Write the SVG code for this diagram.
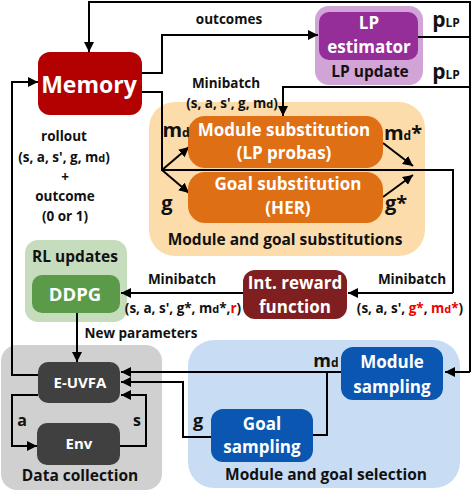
<svg xmlns="http://www.w3.org/2000/svg" width="472" height="492" viewBox="0 0 472 492">
<defs>
<marker id="ah" viewBox="0 0 10 10" refX="10" refY="5" markerWidth="10" markerHeight="10" markerUnits="userSpaceOnUse" orient="auto">
<path d="M0,0 L10,5 L0,10 z" fill="#000"/>
</marker>
<style>
text{font-family:"Open Sans","Liberation Sans",sans-serif;font-weight:bold;text-anchor:middle}
.w{fill:#fff}
.k{fill:#111}
.lbl{font-size:13.5px}
.grp{font-size:15.5px}
.node{font-size:17px}
.red{fill:#ee0000}
.c{fill:none;stroke:#000;stroke-width:2}
.a{marker-end:url(#ah)}
.big{font-size:21px}
.sub{font-size:12px}
.ssub{font-size:11px}
</style>
</defs>
<rect width="472" height="492" fill="#fff"/>

<!-- group backgrounds -->
<g id="lp-update">
<rect x="315" y="6" width="108" height="79" rx="14" fill="#d2a3d6"/>
<text class="k grp" x="370" y="77">LP update</text>
</g>
<g id="substitutions">
<rect x="149" y="102" width="276" height="154" rx="26" fill="#fddcab"/>
<text class="k grp" x="285" y="245">Module and goal substitutions</text>
</g>
<g id="rl-updates">
<rect x="25" y="240" width="102" height="82" rx="13" fill="#c5dcbd"/>
<text class="k grp" x="75" y="262">RL updates</text>
</g>
<g id="data-collection">
<rect x="1" y="345" width="161" height="145" rx="16" fill="#d0d0d0"/>
<text class="k grp" x="80" y="481">Data collection</text>
</g>
<g id="selection">
<rect x="188" y="340" width="272" height="148" rx="26" fill="#c8ddf3"/>
<text class="k grp" x="326" y="480">Module and goal selection</text>
</g>

<!-- connectors -->
<g id="connectors">
<path class="c" d="M418,37 H470"/>
<path class="c a" d="M470,372 V2 H89 V52"/>
<path class="c a" d="M470,87 H283 V116"/>
<path class="c a" d="M470,372 H445"/>
<path class="c a" d="M142,73 H162 V35 H318"/>
<path class="c" d="M142,92 H162 V170 H453 V293"/>
<path class="c a" d="M453,293 H348"/>
<path class="c a" d="M162,170 L189,147"/>
<path class="c a" d="M162,170 L189,193"/>
<path class="c a" d="M383,143 L413,166"/>
<path class="c a" d="M383,197 L413,175"/>
<path class="c a" d="M243,293 H121"/>
<path class="c a" d="M77,313 V362"/>
<path class="c a" d="M38,375 H12 V82 H38"/>
<path class="c a" d="M38,395 H12 V446 H37"/>
<path class="c a" d="M120,446 H146 V395 H121"/>
<path class="c a" d="M341,372 H121"/>
<path class="c" d="M327,372 V435 H313"/>
<path class="c a" d="M211,437 H183 V382 H121"/>
</g>

<!-- nodes -->
<g id="memory">
<rect x="38" y="52" width="104" height="63" rx="12" fill="#b30000"/>
<text class="w" x="89" y="93" font-size="23">Memory</text>
</g>
<g id="lp-estimator">
<rect x="319" y="12" width="99" height="48" rx="10" fill="#952e99"/>
<text class="w node" x="369" y="29">LP</text>
<text class="w node" x="369" y="53">estimator</text>
</g>
<g id="module-substitution">
<rect x="188" y="116" width="195" height="52" rx="17" fill="#df6f15"/>
<text class="w node" x="284" y="136">Module substitution</text>
<text class="w node" x="284" y="159">(LP probas)</text>
</g>
<g id="goal-substitution">
<rect x="188" y="172" width="195" height="51" rx="17" fill="#df6f15"/>
<text class="w node" x="288" y="190">Goal substitution</text>
<text class="w node" x="288" y="214">(HER)</text>
</g>
<g id="int-reward">
<rect x="243" y="270" width="104" height="49" rx="12" fill="#7f1f1f"/>
<text class="w node" x="295" y="289">Int. reward</text>
<text class="w node" x="295" y="313">function</text>
</g>
<g id="ddpg">
<rect x="32" y="275" width="88" height="38" rx="10" fill="#5b9a48"/>
<text class="w" x="75" y="301" font-size="18.5">DDPG</text>
</g>
<g id="e-uvfa">
<rect x="38" y="362" width="82" height="41" rx="10" fill="#404040"/>
<text class="w" x="80" y="388" font-size="15">E-UVFA</text>
</g>
<g id="env">
<rect x="37" y="423" width="83" height="42" rx="10" fill="#404040"/>
<text class="w" x="79" y="449" font-size="15">Env</text>
</g>
<g id="module-sampling">
<rect x="341" y="347" width="102" height="53" rx="12" fill="#0a56b0"/>
<text class="w node" x="392" y="368">Module</text>
<text class="w node" x="392" y="393">sampling</text>
</g>
<g id="goal-sampling">
<rect x="211" y="409" width="102" height="53" rx="12" fill="#0a56b0"/>
<text class="w node" x="262" y="430">Goal</text>
<text class="w node" x="262" y="453">sampling</text>
</g>

<!-- labels -->
<g id="labels">
<text class="k lbl" x="229" y="24">outcomes</text>
<text class="k" x="446" y="27"><tspan class="big">p</tspan><tspan class="sub">LP</tspan></text>
<text class="k" x="446" y="79"><tspan class="big">p</tspan><tspan class="sub">LP</tspan></text>
<text class="k lbl" x="226" y="88">Minibatch</text>
<text class="k lbl" x="232" y="108">(s, a, s', g, m<tspan class="ssub">d</tspan>)</text>
<text class="k" x="176" y="137"><tspan font-size="20">m</tspan><tspan class="sub">d</tspan></text>
<text class="k" x="167" y="210" font-size="20">g</text>
<text class="k" x="403" y="140"><tspan font-size="20">m</tspan><tspan class="sub">d</tspan><tspan font-size="20">*</tspan></text>
<text class="k" x="396" y="210" font-size="20">g*</text>
<text class="k lbl" x="64" y="141">rollout</text>
<text class="k lbl" x="64" y="162">(s, a, s', g, m<tspan class="ssub">d</tspan>)</text>
<text class="k lbl" x="65" y="182">+</text>
<text class="k lbl" x="65" y="201">outcome</text>
<text class="k lbl" x="65" y="221">(0 or 1)</text>
<text class="k lbl" x="182" y="284">Minibatch</text>
<text class="k lbl" x="183" y="313">(s, a, s', g*, m<tspan class="ssub">d</tspan>*,<tspan class="red">r</tspan>)</text>
<text class="k lbl" x="412" y="284">Minibatch</text>
<text class="k lbl" x="410" y="313">(s, a, s', <tspan class="red">g*</tspan>, <tspan class="red">m</tspan><tspan class="ssub red">d</tspan><tspan class="red">*</tspan>)</text>
<text class="k lbl" x="141" y="338">New parameters</text>
<text class="k" x="22" y="426" font-size="16">a</text>
<text class="k" x="137" y="426" font-size="16">s</text>
<text class="k" x="198" y="427" font-size="18">g</text>
<text class="k" x="326" y="367"><tspan font-size="18">m</tspan><tspan class="sub">d</tspan></text>
</g>
</svg>
